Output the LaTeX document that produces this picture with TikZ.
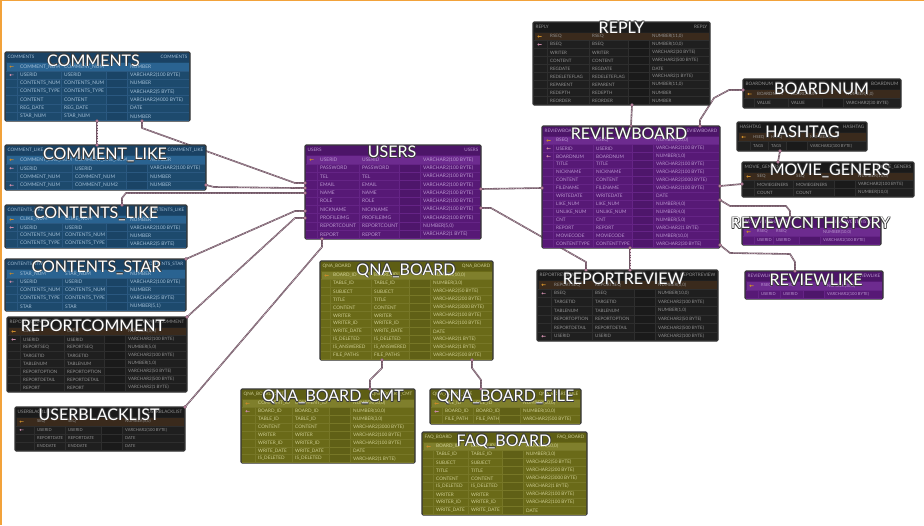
\documentclass[tikz,border=0pt]{standalone}
\usepackage{fontspec}
\setmainfont{Lato}
\usetikzlibrary{calc}
\pgfdeclarelayer{bg}
\pgfsetlayers{bg,main}
\definecolor{blueFill}{HTML}{1D4A6D}
\definecolor{blueHead}{HTML}{1A4264}
\definecolor{blueHl}{HTML}{2A6391}
\definecolor{blueTxt}{HTML}{A3C0D8}
\definecolor{blueGrid}{HTML}{2A5880}
\definecolor{blueCol}{HTML}{1A4466}
\definecolor{darkFill}{HTML}{1F1F1F}
\definecolor{darkHead}{HTML}{1A1A1A}
\definecolor{darkHl}{HTML}{3A2A1C}
\definecolor{darkTxt}{HTML}{929292}
\definecolor{darkGrid}{HTML}{2E2E2E}
\definecolor{darkCol}{HTML}{1A1A1A}
\definecolor{purpFill}{HTML}{571976}
\definecolor{purpHead}{HTML}{4C1568}
\definecolor{purpHl}{HTML}{6D2B8F}
\definecolor{purpTxt}{HTML}{BA96D0}
\definecolor{purpGrid}{HTML}{652486}
\definecolor{purpCol}{HTML}{4E166B}
\definecolor{olivFill}{HTML}{6A6A18}
\definecolor{olivHead}{HTML}{5E5E14}
\definecolor{olivHl}{HTML}{7F7F2C}
\definecolor{olivTxt}{HTML}{CECE92}
\definecolor{olivGrid}{HTML}{777727}
\definecolor{olivCol}{HTML}{606016}
\definecolor{tblBorder}{HTML}{353535}
\definecolor{titleShadow}{HTML}{3A3A3A}
\definecolor{connOut}{HTML}{6E5563}
\definecolor{connIn}{HTML}{E2C6D4}
\definecolor{keyP}{HTML}{C88A2A}
\definecolor{keyF}{HTML}{C98AA8}
\definecolor{edgeOr}{HTML}{F2A23A}
\def\rfs{4.9}
\tikzset{
  tbox/.style={draw=tblBorder, line width=1.1pt, rounded corners=1.2pt, inner sep=0pt, outer sep=0pt},
  htext/.style={font=\fontsize{4.6}{5}\selectfont, inner sep=0pt},
  rtext/.style={font=\fontsize{\rfs}{5}\selectfont, inner sep=0pt, anchor=west},
  ttl/.style={font=\fontsize{16}{18}\selectfont, text=white, inner sep=0pt},
  ttlsh/.style={font=\fontsize{16}{18}\selectfont, text=titleShadow, inner sep=0pt},
  conn/.style={draw=connOut, line width=1.6pt, line join=round,
    postaction={draw=connIn, line width=0.5pt, dash pattern=on 0.8pt off 0.8pt}},
  endmk/.style={fill=keyF, draw=connOut, line width=0.3pt},
  ico-p/.style={fill=keyP},
  ico-f/.style={fill=keyF},
  ico-n/.style={}
}
\newcommand\cols[3]{\def\cA{#1}\def\cB{#2}\def\cD{#3}}
% #1 id, #2 x1, #3 y1, #4 x2, #5 y2, #6 scheme, #7 header, #8 rows, #9 list
\newcommand\ertable[9]{%
  \pgfmathsetmacro\tw{#4-#2}%
  \pgfmathsetmacro\th{#5-#3}%
  \pgfmathsetmacro\pitch{(#5-#3-11)/#8}%
  \node[tbox, fill=#6Fill, minimum width=\tw pt, minimum height=\th pt, anchor=north west] (#1) at (#2,#3) {};
  \fill[#6Head] (#2+0.6,#3+0.6) rectangle (#4-0.6,#3+10);
  \fill[#6Col] (#2+\cD-24,#3+10.5) rectangle (#2+\cD-3,#5-1);
  \foreach \vx in {\cA-3,\cB-3,\cD-24,\cD-3}{\draw[#6Grid, line width=0.3pt] (#2+\vx,#3+10.5) -- (#2+\vx,#5-1);}
  \node[htext, text=#6Txt, anchor=west] (#1-hl) at (#2+2.5,#3+5.2) {#7};
  \node[htext, text=#6Txt, anchor=east] (#1-hr) at (#4-2.5,#3+5.2) {#7};
  \foreach \a/\b/\c/\k [count=\i] in {#9} {
    \pgfmathsetmacro\yt{#3+10.5+(\i-1)*\pitch}
    \pgfmathsetmacro\yc{\yt+0.5*\pitch}
    \ifnum\i=1 \fill[#6Hl] (#2+1.5,\yt) rectangle (#4-1.5,\yt+\pitch); \fi
    \draw[#6Grid, line width=0.3pt] (#2+1,\yt+\pitch) -- (#4-1,\yt+\pitch);
    \path[ico-\k] (#2+5.5,\yc) circle (1.1) (#2+6,\yc-0.3) rectangle (#2+8.5,\yc+0.3);
    \node[rtext, text=#6Txt] (#1-a\i) at (#2+\cA,\yc) {\a};
    \node[rtext, text=#6Txt] (#1-b\i) at (#2+\cB,\yc) {\b};
    \node[rtext, text=#6Txt] (#1-d\i) at (#2+\cD,\yc) {\c};
  }
}
\newcommand\ertitle[4]{%
  \foreach \dx/\dy [count=\j] in {0.6/0.6,-0.6/0.6,0.6/-0.6,-0.6/-0.6}{\node[ttlsh] (#1-sh\j) at (#2+\dx,#3+\dy) {#4};}
  \node[ttl] (#1-t) at (#2,#3) {#4};
}
\newcommand\at[4]{\coordinate (#1) at ($(#2)+(#3,#4)$);}
\begin{document}
\begin{tikzpicture}[x=1pt,y=-1pt]
\useasboundingbox (0,0) rectangle (924,525);
\begin{pgfonlayer}{bg}
\fill[white] (0,0) rectangle (924,525);
\end{pgfonlayer}
\fill[edgeOr] (0,0) rectangle (1.5,525);
\fill[edgeOr] (0,0) rectangle (924,1);

% ---------- left, blue ----------
\cols{15}{59}{125}
\ertable{comments}{5}{52}{190}{121}{blue}{COMMENTS}{7}{%
COMMENT\_NUM/COMMENT\_NUM/NUMBER/p,
USERID/USERID/VARCHAR2(100 BYTE)/f,
CONTENTS\_NUM/CONTENTS\_NUM/NUMBER/n,
CONTENTS\_TYPE/CONTENTS\_TYPE/VARCHAR2(5 BYTE)/n,
CONTENT/CONTENT/VARCHAR2(4000 BYTE)/n,
REG\_DATE/REG\_DATE/DATE/n,
STAR\_NUM/STAR\_NUM/NUMBER/n}
\cols{15}{70}{145}
\ertable{clike}{5}{145}{206}{190}{blue}{COMMENT\_LIKE}{4}{%
COMMENT\_LIKE\_NUM/COMMENT\_LIKE\_NUM/NUMBER/p,
USERID/USERID/VARCHAR2(100 BYTE)/f,
COMMENT\_NUM/COMMENT\_NUM/NUMBER/n,
COMMENT\_NUM/COMMENT\_NUM2/NUMBER/f}
\cols{15}{60}{125}
\ertable{ctlike}{5}{205}{187}{248}{blue}{CONTENTS\_LIKE}{4}{%
CLIKE\_NUM/CLIKE\_NUM/NUMBER/p,
USERID/USERID/VARCHAR2(100 BYTE)/f,
CONTENTS\_NUM/CONTENTS\_NUM/NUMBER/n,
CONTENTS\_TYPE/CONTENTS\_TYPE/VARCHAR2(5 BYTE)/n}
\ertable{cstar}{5}{259}{186}{311}{blue}{CONTENTS\_STAR}{5}{%
STAR\_NUM/STAR\_NUM/NUMBER/p,
USERID/USERID/VARCHAR2(100 BYTE)/f,
CONTENTS\_NUM/CONTENTS\_NUM/NUMBER/n,
CONTENTS\_TYPE/CONTENTS\_TYPE/VARCHAR2(5 BYTE)/n,
STAR/STAR/{NUMBER(5,1)}/n}
% ---------- left, dark ----------
\def\rfs{4.5}
\cols{16}{60}{121}
\ertable{rcomment}{7}{317}{187}{392}{dark}{REPORTCOMMENT}{8}{%
CSEQ/CSEQ/{NUMBER(5,0)}/p,
USERID/USERID/VARCHAR2(100 BYTE)/f,
REPORTSEQ/REPORTSEQ/{NUMBER(5,0)}/n,
TARGETID/TARGETID/VARCHAR2(100 BYTE)/n,
TABLENUM/TABLENUM/{NUMBER(1,0)}/n,
REPORTOPTION/REPORTOPTION/VARCHAR2(50 BYTE)/n,
REPORTDETAIL/REPORTDETAIL/VARCHAR2(500 BYTE)/n,
REPORT/REPORT/VARCHAR2(1 BYTE)/n}
\def\rfs{4.1}
\cols{22}{53}{110}
\ertable{ublack}{15}{407}{185}{451}{dark}{USERBLACKLIST}{4}{%
SEQ/SEQ/{NUMBER(5,0)}/p,
USERID/USERID/VARCHAR2(100 BYTE)/f,
REPORTDATE/REPORTDATE/DATE/n,
ENDDATE/ENDDATE/DATE/n}
\def\rfs{4.9}
% ---------- users ----------
\cols{15}{57}{118}
\ertable{users}{305}{145}{481}{239}{purp}{USERS}{10}{%
USERID/USERID/VARCHAR2(100 BYTE)/p,
PASSWORD/PASSWORD/VARCHAR2(100 BYTE)/n,
TEL/TEL/VARCHAR2(100 BYTE)/n,
EMAIL/EMAIL/VARCHAR2(100 BYTE)/n,
NAME/NAME/VARCHAR2(100 BYTE)/n,
ROLE/ROLE/VARCHAR2(100 BYTE)/n,
NICKNAME/NICKNAME/VARCHAR2(100 BYTE)/n,
PROFILEIMG/PROFILEIMG/VARCHAR2(100 BYTE)/n,
REPORTCOUNT/REPORTCOUNT/{NUMBER(5,0)}/n,
REPORT/REPORT/VARCHAR2(1 BYTE)/n}
% ---------- qna ----------
\def\rfs{4.7}
\cols{13}{54}{113}
\ertable{qna}{320}{261}{493}{360}{oliv}{QNA\_BOARD}{11}{%
BOARD\_ID/BOARD\_ID/{NUMBER(10,0)}/p,
TABLE\_ID/TABLE\_ID/{NUMBER(3,0)}/n,
SUBJECT/SUBJECT/VARCHAR2(50 BYTE)/n,
TITLE/TITLE/VARCHAR2(200 BYTE)/n,
CONTENT/CONTENT/VARCHAR2(3000 BYTE)/n,
WRITER/WRITER/VARCHAR2(100 BYTE)/n,
WRITER\_ID/WRITER\_ID/VARCHAR2(100 BYTE)/n,
WRITE\_DATE/WRITE\_DATE/DATE/n,
IS\_DELETED/IS\_DELETED/VARCHAR2(1 BYTE)/n,
IS\_ANSWERED/IS\_ANSWERED/VARCHAR2(1 BYTE)/n,
FILE\_PATHS/FILE\_PATHS/VARCHAR2(500 BYTE)/n}
\cols{17}{54}{112}
\ertable{qcmt}{241}{389}{415}{463}{oliv}{QNA\_BOARD\_CMT}{8}{%
COMMENT\_ID/COMMENT\_ID/{NUMBER(10,0)}/p,
BOARD\_ID/BOARD\_ID/{NUMBER(10,0)}/f,
TABLE\_ID/TABLE\_ID/{NUMBER(3,0)}/n,
CONTENT/CONTENT/VARCHAR2(3000 BYTE)/n,
WRITER/WRITER/VARCHAR2(100 BYTE)/n,
WRITER\_ID/WRITER\_ID/VARCHAR2(100 BYTE)/n,
WRITE\_DATE/WRITE\_DATE/DATE/n,
IS\_DELETED/IS\_DELETED/VARCHAR2(1 BYTE)/n}
\cols{15}{46}{93}
\ertable{qfile}{430}{389}{581}{424}{oliv}{QNA\_BOARD\_FILE}{3}{%
FILE\_ID/FILE\_ID/{NUMBER(10,0)}/p,
BOARD\_ID/BOARD\_ID/{NUMBER(10,0)}/f,
FILE\_PATH/FILE\_PATH/VARCHAR2(500 BYTE)/n}
\cols{14}{49}{104}
\ertable{faq}{422}{432}{587}{515}{oliv}{FAQ\_BOARD}{9}{%
BOARD\_ID/BOARD\_ID/{NUMBER(10,0)}/p,
TABLE\_ID/TABLE\_ID/{NUMBER(3,0)}/n,
SUBJECT/SUBJECT/VARCHAR2(50 BYTE)/n,
TITLE/TITLE/VARCHAR2(200 BYTE)/n,
CONTENT/CONTENT/VARCHAR2(3000 BYTE)/n,
IS\_DELETED/IS\_DELETED/VARCHAR2(1 BYTE)/n,
WRITER/WRITER/VARCHAR2(100 BYTE)/n,
WRITER\_ID/WRITER\_ID/VARCHAR2(100 BYTE)/n,
WRITE\_DATE/WRITE\_DATE/DATE/n}
% ---------- right ----------
\def\rfs{4.5}
\cols{17}{59}{119}
\ertable{reply}{533}{22}{710}{105}{dark}{REPLY}{9}{%
RSEQ/RSEQ/{NUMBER(11,0)}/p,
BSEQ/BSEQ/{NUMBER(10,0)}/f,
WRITER/WRITER/VARCHAR2(30 BYTE)/n,
CONTENT/CONTENT/VARCHAR2(500 BYTE)/n,
REGDATE/REGDATE/DATE/n,
REDELETEFLAG/REDELETEFLAG/VARCHAR2(1 BYTE)/n,
REPARENT/REPARENT/{NUMBER(11,0)}/n,
REDEPTH/REDEPTH/NUMBER/n,
REORDER/REORDER/NUMBER/n}
\def\rfs{4.7}
\cols{14}{54}{114}
\ertable{rboard}{542}{126}{720}{248}{purp}{REVIEWBOARD}{14}{%
BSEQ/BSEQ/{NUMBER(10,0)}/p,
USERID/USERID/VARCHAR2(100 BYTE)/f,
BOARDNUM/BOARDNUM/{NUMBER(1,0)}/f,
TITLE/TITLE/VARCHAR2(100 BYTE)/n,
NICKNAME/NICKNAME/VARCHAR2(100 BYTE)/n,
CONTENT/CONTENT/VARCHAR2(3000 BYTE)/n,
FILENAME/FILENAME/VARCHAR2(100 BYTE)/n,
WRITEDATE/WRITEDATE/DATE/n,
LIKE\_NUM/LIKE\_NUM/{NUMBER(4,0)}/n,
UNLIKE\_NUM/UNLIKE\_NUM/{NUMBER(4,0)}/n,
CNT/CNT/{NUMBER(5,0)}/n,
REPORT/REPORT/VARCHAR2(1 BYTE)/n,
MOVIECODE/MOVIECODE/{NUMBER(10,0)}/n,
CONTENTTYPE/CONTENTTYPE/VARCHAR2(30 BYTE)/n}
\def\rfs{4.4}
\cols{14}{48}{103}
\ertable{bnum}{743}{79}{901}{108}{dark}{BOARDNUM}{2}{%
BOARDNUM/BOARDNUM/{NUMBER(1,0)}/p,
VALUE/VALUE/VARCHAR2(30 BYTE)/n}
\def\rfs{4.1}
\cols{16}{34}{73}
\ertable{hash}{737}{122}{867}{151}{dark}{HASHTAG}{2}{%
HSEQ/HSEQ/{NUMBER(10,0)}/p,
TAGS/TAGS/VARCHAR2(100 BYTE)/n}
\def\rfs{4.4}
\cols{15}{54}{116}
\ertable{mgen}{742}{162}{914}{197}{dark}{MOVIE\_GENERS}{3}{%
SEQ/SEQ/{NUMBER(10,0)}/p,
MOVIEGENERS/MOVIEGENERS/VARCHAR2(100 BYTE)/n,
COUNT/COUNT/{NUMBER(10,0)}/n}
\def\rfs{4.1}
\cols{15}{34}{81}
\ertable{rcnt}{742}{217}{881}{245}{purp}{REVIEWCNTHISTORY}{2}{%
RSEQ/RSEQ/{NUMBER(10,0)}/p,
USERID/USERID/VARCHAR2(100 BYTE)/n}
\cols{16}{38}{82}
\ertable{rlike}{745}{271}{883}{299}{purp}{REVIEWLIKE}{2}{%
RSEQ/RSEQ/{NUMBER(10,0)}/p,
USERID/USERID/VARCHAR2(100 BYTE)/n}
\def\rfs{4.5}
\cols{17}{58}{121}
\ertable{rreview}{537}{270}{718}{341}{dark}{REPORTREVIEW}{7}{%
REPORTSEQ/REPORTSEQ/{NUMBER(5,0)}/p,
BSEQ/BSEQ/{NUMBER(10,0)}/f,
TARGETID/TARGETID/VARCHAR2(100 BYTE)/n,
TABLENUM/TABLENUM/{NUMBER(1,0)}/n,
REPORTOPTION/REPORTOPTION/VARCHAR2(50 BYTE)/n,
REPORTDETAIL/REPORTDETAIL/VARCHAR2(500 BYTE)/n,
USERID/USERID/VARCHAR2(100 BYTE)/f}

% ---------- connector end points ----------
\at{a1}{comments.south west}{92}{0}   \at{b1}{clike.north west}{92}{0}
\at{a2}{comments.south west}{137}{0}  \at{b2}{users.north west}{0}{38}
\at{a3}{clike.north east}{0}{40}      \at{b3}{users.north west}{0}{43}
\at{a4}{ctlike.north west}{117}{0}    \at{b4}{users.north west}{0}{48}
\at{a5}{cstar.north east}{0}{0}       \at{b5}{users.north west}{0}{66}
\at{a6}{rcomment.north east}{0}{0}    \at{b6}{users.north west}{0}{73}
\at{a7}{ublack.north east}{0}{0}      \at{b7}{users.south west}{17}{0}
\at{a8}{users.north east}{0}{44}      \at{b8}{rboard.north west}{0}{62}
\at{a9}{users.north east}{0}{63}      \at{b9}{rreview.north west}{49}{0}
\at{a10}{rboard.south west}{88}{0}    \at{b10}{rreview.north west}{93}{0}
\at{a11}{reply.south west}{99}{0}     \at{b11}{rboard.north west}{89}{0}
\at{a12}{rboard.north west}{158}{0}   \at{b12}{bnum.north west}{0}{11}
\at{a13}{rboard.north east}{0}{60}    \at{b13}{mgen.north west}{0}{22}
\at{a14}{hash.south west}{43}{0}      \at{b14}{mgen.north west}{36}{0}
\at{a15}{rboard.north east}{0}{74}    \at{b15}{rcnt.north west}{48}{0}
\at{a16}{rboard.north east}{0}{119}   \at{b16}{rlike.north west}{50}{0}
\at{a17}{qna.south west}{62}{0}       \at{b17}{qcmt.north west}{129}{0}
\at{a18}{qna.south west}{152}{0}      \at{b18}{qfile.north west}{51}{0}

\begin{pgfonlayer}{bg}
\draw[conn] (a1) -- (b1);
\draw[conn] (a2) -- ++(0,7) -- ($(b2)+(-10,0)$) -- (b2);
\draw[conn] (a3) -- ++(8,2) -- ($(b3)+(-10,0)$) -- (b3);
\draw[conn] (a4) -- ++(0,-7) -- ++(4,-5) -- ($(b4)+(-10,0)$) -- (b4);
\draw[conn] (a5) -- ($(b5)+(-10,0)$) -- (b5);
\draw[conn] (a6) -- ($(b6)+(-10,0)$) -- (b6);
\draw[conn] (a7) -- ($(b7)+(0,8)$) -- (b7);
\draw[conn] (a8) -- (b8);
\draw[conn] (a9) -- ++(10,0) -- ($(b9)+(0,-8)$) -- (b9);
\draw[conn] (a10) -- (b10);
\draw[conn] (a11) -- (b11);
\draw[conn] (a12) -- ++(0,-6) -- ++(14,-22) -- ($(b12)+(-14,0)$) -- (b12);
\draw[conn] (a13) -- (b13);
\draw[conn] (a14) -- (b14);
\draw[conn] (a15) -- ++(10,6) -- ($(b15)+(-4,-11)$) -- ++(4,5) -- (b15);
\draw[conn] (a16) -- ++(10,8) -- ($(b16)+(-5,-17)$) -- ++(5,8) -- (b16);
\draw[conn] (a17) -- ++(0,8) -- ($(b17)+(0,-9)$) -- (b17);
\draw[conn] (a18) -- ++(0,8) -- ($(b18)+(0,-9)$) -- (b18);
\end{pgfonlayer}
\foreach \p in {a1,b1,a2,b2,a3,b3,a4,b4,a5,b5,a6,b6,a7,b7,a8,b8,a9,b9,a10,b10,a11,b11,a12,b12,a13,b13,a14,b14,a15,b15,a16,b16,a17,b17,a18,b18}{\path[endmk] (\p) circle (1.7);}

% ---------- titles ----------
\ertitle{tcomments}{93.5}{60.5}{COMMENTS}
\ertitle{tclike}{105}{155}{COMMENT\_LIKE}
\ertitle{tctlike}{96}{213.5}{CONTENTS\_LIKE}
\ertitle{tcstar}{96.5}{267.5}{CONTENTS\_STAR}
\ertitle{trcomment}{93}{325.5}{REPORTCOMMENT}
\ertitle{tublack}{99}{414.5}{USERBLACKLIST}
\ertitle{tusers}{392}{152}{USERS}
\ertitle{tqna}{406}{270.5}{QNA\_BOARD}
\ertitle{tqcmt}{333}{397}{QNA\_BOARD\_CMT}
\ertitle{tqfile}{505.5}{397}{QNA\_BOARD\_FILE}
\ertitle{tfaq}{504}{441.5}{FAQ\_BOARD}
\ertitle{treply}{621.5}{27.5}{REPLY}
\ertitle{trboard}{629}{133.5}{REVIEWBOARD}
\ertitle{tbnum}{821.5}{88.5}{BOARDNUM}
\ertitle{thash}{802.5}{132}{HASHTAG}
\ertitle{tmgen}{830}{170.5}{MOVIE\_GENERS}
\ertitle{trcnt}{810.5}{223}{REVIEWCNTHISTORY}
\ertitle{trlike}{816}{280}{REVIEWLIKE}
\ertitle{trreview}{623.5}{278.5}{REPORTREVIEW}
\end{tikzpicture}
\end{document}
